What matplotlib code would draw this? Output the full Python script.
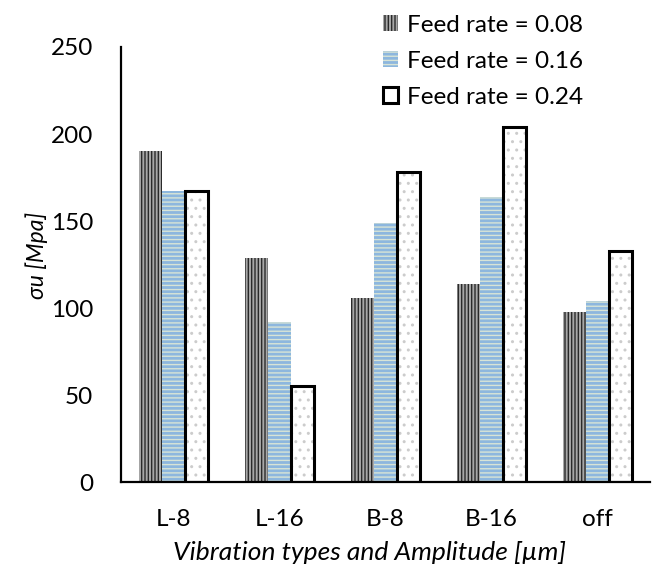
import matplotlib
matplotlib.use('Agg')
import matplotlib.pyplot as plt
import numpy as np

plt.rcParams['font.family'] = ['Lato', 'DejaVu Sans']
plt.rcParams['hatch.linewidth'] = 1.0

categories = ['L-8', 'L-16', 'B-8', 'B-16', 'off']
feed_008 = [190, 129, 106, 114, 98]
feed_016 = [167, 92, 149, 164, 104]
feed_024 = [167, 55, 178, 204, 133]

fig = plt.figure(figsize=(6.54, 5.66), dpi=100)
ax = fig.add_axes([0.185, 0.148, 0.809, 0.769])

x = np.arange(len(categories))
w = 0.217

ax.bar(x - w, feed_008, w, color='#a8a8a8', edgecolor='#2a2a2a', linewidth=0,
       hatch='|||||', label='Feed rate = 0.08')
ax.bar(x, feed_016, w, color='#8db7de', edgecolor='#d8e4d6', linewidth=0,
       hatch='----', label='Feed rate = 0.16')
ax.bar(x + w, feed_024, w, color='white', edgecolor='#cccccc', linewidth=0,
       hatch='..')
ax.bar(x + w, feed_024, w, fill=False, edgecolor='black', linewidth=2.2,
       label='Feed rate = 0.24')

ax.set_xlim(-0.5, len(categories) - 0.5)
ax.set_ylim(0, 250)
ax.set_yticks([0, 50, 100, 150, 200, 250])
ax.set_xticks(x)
ax.set_xticklabels(categories)
ax.tick_params(length=0, labelsize=17.5, colors='black')
ax.tick_params(axis='y', pad=20)
ax.tick_params(axis='x', pad=19)

for s in ['top', 'right']:
    ax.spines[s].set_visible(False)
for s in ['left', 'bottom']:
    ax.spines[s].set_linewidth(1.6)

ax.set_ylabel('σu [Mpa]', style='italic', fontsize=16.5, labelpad=2, y=0.52)
ax.set_xlabel('Vibration types and Amplitude [µm]', style='italic', fontsize=19,
              labelpad=8, x=0.47)

fig.legend(loc='upper left', bbox_to_anchor=(0.564, 1.0), frameon=False,
           fontsize=17.5, handlelength=0.6, handleheight=0.6, handletextpad=0.35,
           labelspacing=0.62, borderaxespad=0.2)

fig.savefig('out.png', dpi=100)
